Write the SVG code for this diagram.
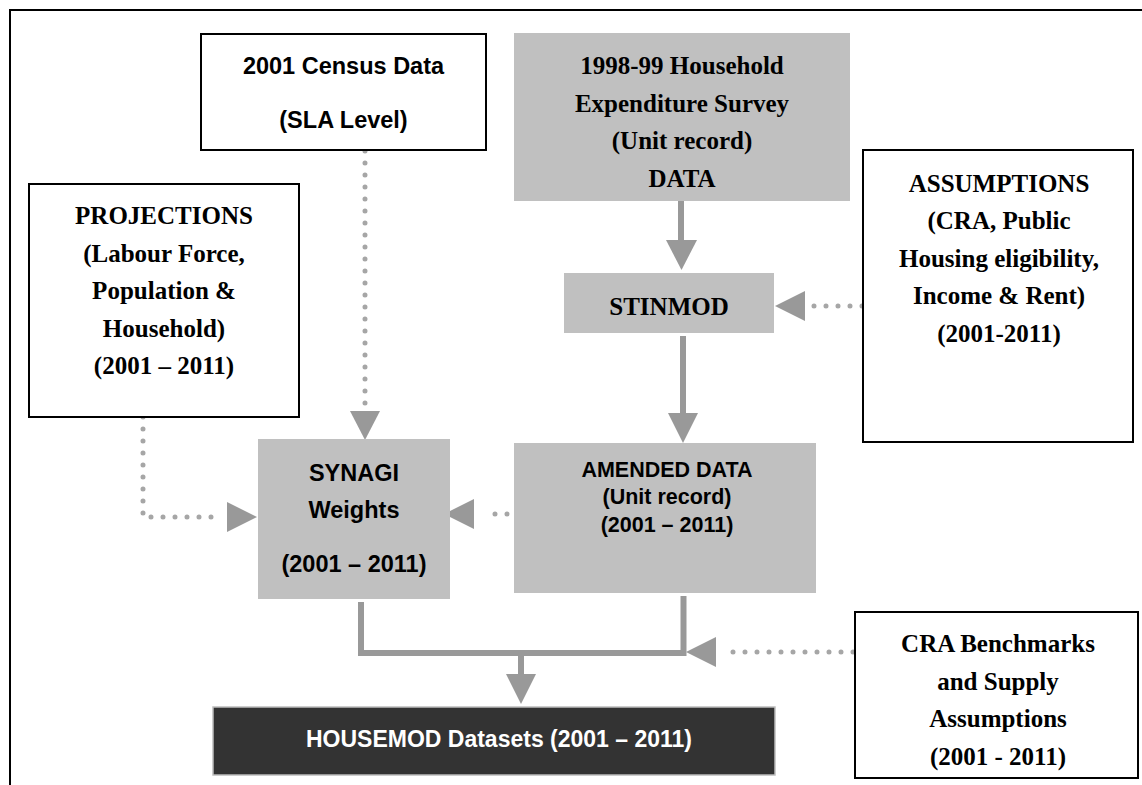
<svg xmlns="http://www.w3.org/2000/svg" width="1142" height="785" viewBox="0 0 1142 785">
<defs>
<style>
.wbox{fill:#fff;stroke:#000;stroke-width:2}
.gbox{fill:#c0c0c0}
.dbox{fill:#333;stroke:#bdbdbd;stroke-width:1.5}
.sans{font-family:"Liberation Sans",Arial,sans-serif;font-weight:bold;fill:#000;text-anchor:middle}
.serif{font-family:"Liberation Serif","Times New Roman",serif;font-weight:bold;fill:#000;text-anchor:middle;font-size:25px}
.dots{fill:none;stroke:#a6a6a6;stroke-width:5;stroke-linecap:round;stroke-dasharray:0 12}
.solid{fill:none;stroke:#999;stroke-width:6}
.head{fill:#999}
</style>
</defs>
<rect x="10" y="10" width="1200" height="900" fill="none" stroke="#000" stroke-width="2"/>

<g id="connectors">
  <!-- Census -> SYNAGI -->
  <path class="dots" d="M365 151 V410"/>
  <polygon class="head" points="350,411 380,411 365,440"/>
  <!-- Projections -> SYNAGI -->
  <path class="dots" d="M143 417 V517 H220"/>
  <polygon class="head" points="227,502 227,532 257,517"/>
  <!-- Amended -> SYNAGI -->
  <path class="dots" d="M507 514 H483"/>
  <polygon class="head" points="474,499 474,529 444,514"/>
  <!-- HES -> STINMOD -->
  <path class="solid" d="M681 201 V241"/>
  <polygon class="head" points="666,240 697,240 681.5,270"/>
  <!-- STINMOD -> Amended -->
  <path class="solid" d="M683 336 V414"/>
  <polygon class="head" points="668,413 698,413 683,443"/>
  <!-- Assumptions -> STINMOD -->
  <path class="dots" d="M862 306 H813"/>
  <polygon class="head" points="805,291 805,321 775,306"/>
  <!-- SYNAGI & Amended -> merge -> HOUSEMOD -->
  <path class="solid" d="M361 602 V653 H683.5 V596"/>
  <path class="solid" d="M521 653 V675"/>
  <polygon class="head" points="506,674 536,674 521,704"/>
  <!-- CRA -> merge -->
  <path class="dots" d="M853 652 H724"/>
  <polygon class="head" points="716,637 716,667 686,652"/>
</g>

<g id="census">
  <rect class="wbox" x="201" y="34" width="285" height="116"/>
  <text class="sans" x="343.5" y="74" font-size="23.5">2001 Census Data</text>
  <text class="sans" x="343.5" y="128" font-size="23.5">(SLA Level)</text>
</g>

<g id="hes">
  <rect class="gbox" x="514" y="33" width="336" height="168"/>
  <text class="serif" x="682" y="74">1998-99 Household</text>
  <text class="serif" x="682" y="112">Expenditure Survey</text>
  <text class="serif" x="682" y="149">(Unit record)</text>
  <text class="serif" x="682" y="187">DATA</text>
</g>

<g id="projections">
  <rect class="wbox" x="29" y="184" width="270" height="233"/>
  <text class="serif" x="164" y="224">PROJECTIONS</text>
  <text class="serif" x="164" y="262">(Labour Force,</text>
  <text class="serif" x="164" y="299">Population &amp;</text>
  <text class="serif" x="164" y="337">Household)</text>
  <text class="serif" x="164" y="374">(2001 – 2011)</text>
</g>

<g id="stinmod">
  <rect class="gbox" x="564" y="273" width="210" height="60"/>
  <text class="serif" x="669" y="315">STINMOD</text>
</g>

<g id="assumptions">
  <rect class="wbox" x="863" y="150" width="270" height="292"/>
  <text class="serif" x="999" y="192">ASSUMPTIONS</text>
  <text class="serif" x="999" y="229">(CRA, Public</text>
  <text class="serif" x="999" y="267">Housing eligibility,</text>
  <text class="serif" x="999" y="304">Income &amp; Rent)</text>
  <text class="serif" x="999" y="342">(2001-2011)</text>
</g>

<g id="synagi">
  <rect class="gbox" x="258" y="439" width="192" height="160"/>
  <text class="sans" x="354" y="481" font-size="23.5">SYNAGI</text>
  <text class="sans" x="354" y="518" font-size="23.5">Weights</text>
  <text class="sans" x="354" y="572" font-size="23.5">(2001 – 2011)</text>
</g>

<g id="amended">
  <rect class="gbox" x="514" y="443" width="302" height="150"/>
  <text class="sans" x="667" y="477" font-size="21.5">AMENDED DATA</text>
  <text class="sans" x="667" y="504" font-size="21.5">(Unit record)</text>
  <text class="sans" x="667" y="532" font-size="21.5">(2001 – 2011)</text>
</g>

<g id="cra">
  <rect class="wbox" x="855" y="612" width="283" height="166"/>
  <text class="serif" x="998" y="652">CRA Benchmarks</text>
  <text class="serif" x="998" y="690">and Supply</text>
  <text class="serif" x="998" y="727">Assumptions</text>
  <text class="serif" x="998" y="765">(2001 - 2011)</text>
</g>

<g id="housemod">
  <rect class="dbox" x="213" y="707" width="562" height="68"/>
  <text class="sans" x="499" y="747" font-size="23" fill="#fff" style="fill:#fff">HOUSEMOD Datasets (2001 – 2011)</text>
</g>
</svg>
